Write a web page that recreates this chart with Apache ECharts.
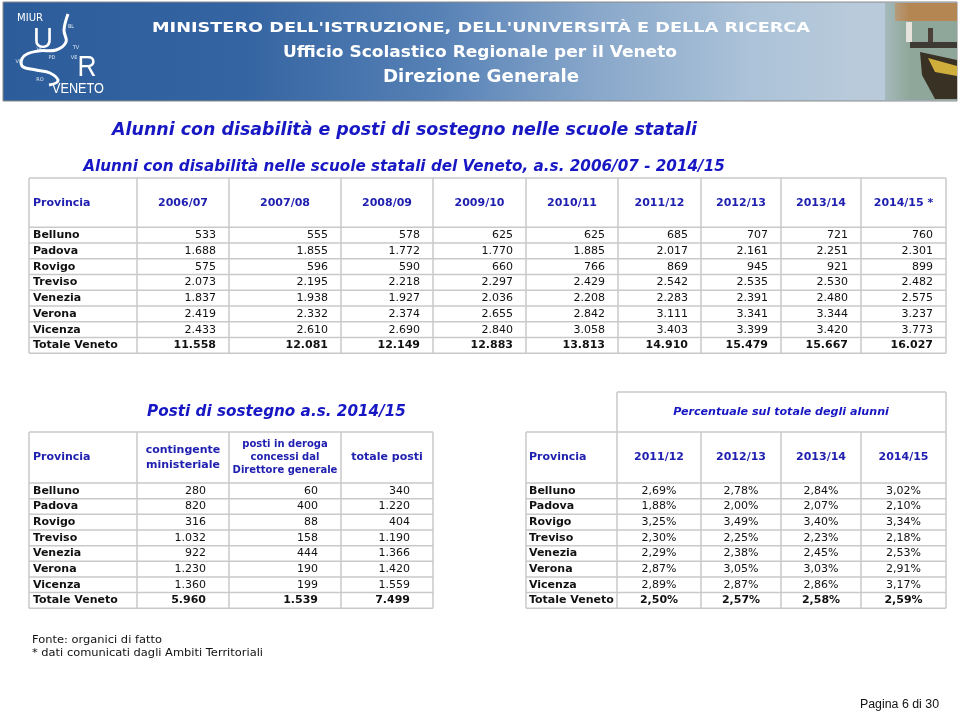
<!DOCTYPE html>
<html>
<head>
<meta charset="utf-8">
<script src="https://cdn.jsdelivr.net/npm/echarts@6/dist/echarts.min.js"></script>
<style>html,body{margin:0;padding:0;background:#fff}#c{width:960px;height:714px}</style>
</head>
<body>
<div id="c"></div>
<script>
// ---------------- DATA ----------------
const provinces = ['Belluno','Padova','Rovigo','Treviso','Venezia','Verona','Vicenza','Totale Veneto'];
const alunniYears = ['2006/07','2007/08','2008/09','2009/10','2010/11','2011/12','2012/13','2013/14','2014/15 *'];
const alunniBelluno = [533,555,578,625,625,685,707,721,760];
const alunniPadova  = [1688,1855,1772,1770,1885,2017,2161,2251,2301];
const alunniRovigo  = [575,596,590,660,766,869,945,921,899];
const alunniTreviso = [2073,2195,2218,2297,2429,2542,2535,2530,2482];
const alunniVenezia = [1837,1938,1927,2036,2208,2283,2391,2480,2575];
const alunniVerona  = [2419,2332,2374,2655,2842,3111,3341,3344,3237];
const alunniVicenza = [2433,2610,2690,2840,3058,3403,3399,3420,3773];
const alunniTotale  = [11558,12081,12149,12883,13813,14910,15479,15667,16027];

const postiHeaders = ['contingente\nministeriale','posti in deroga\nconcessi dal\nDirettore generale','totale posti'];
const postiContingente = [280,820,316,1032,922,1230,1360,5960];
const postiDeroga      = [60,400,88,158,444,190,199,1539];
const postiTotale      = [340,1220,404,1190,1366,1420,1559,7499];

const percYears = ['2011/12','2012/13','2013/14','2014/15'];
const perc201112 = [2.69,1.88,3.25,2.30,2.29,2.87,2.89,2.50];
const perc201213 = [2.78,2.00,3.49,2.25,2.38,3.05,2.87,2.57];
const perc201314 = [2.84,2.07,3.40,2.23,2.45,3.03,2.86,2.58];
const perc201415 = [3.02,2.10,3.34,2.18,2.53,2.91,3.17,2.59];

const texts = {
  ministero: "MINISTERO DELL'ISTRUZIONE, DELL'UNIVERSITÀ E DELLA RICERCA",
  ufficio: 'Ufficio Scolastico Regionale per il Veneto',
  direzione: 'Direzione Generale',
  title: 'Alunni con disabilità e posti di sostegno nelle scuole statali',
  subtitle: 'Alunni con disabilità nelle scuole statali del Veneto, a.s. 2006/07 - 2014/15',
  postiTitle: 'Posti di sostegno a.s. 2014/15',
  percTitle: 'Percentuale sul totale degli alunni',
  provHeader: 'Provincia',
  fonte: 'Fonte: organici di fatto',
  nota: '* dati comunicati dagli Ambiti Territoriali',
  pagina: 'Pagina 6 di 30'
};

// ---------------- HELPERS ----------------
const FAM = '"DejaVu Sans", Verdana, sans-serif';
const GRID = '#c9c9c9';
const TBLUE = '#1717c4';
const HBLUE = '#2020b0';
const INK = '#111111';
const ctx = document.createElement('canvas').getContext('2d');
function measure(str, font){ ctx.font = font; return ctx.measureText(str).width; }
function fmtInt(n){ return String(n).replace(/\B(?=(\d{3})+(?!\d))/g, '.'); }
function fmtPct(v){ return v.toFixed(2).replace('.', ',') + '%'; }
function fitSize(str, style, fam, base, target){
  return base * target / measure(str, style + ' ' + base + 'px ' + fam);
}

const g = [];
function addLine(x1,y1,x2,y2,color,w){
  g.push({type:'line', silent:true, z:5, shape:{x1,y1,x2,y2}, style:{stroke:color||GRID, lineWidth:w||1.5}});
}
function addText(str, x, y, o){
  o = o || {};
  const al = o.align || 'left';
  const el = {type:'text', x, y, silent:true, z:o.z||10,
    style:{text:str, font:o.font, fill:o.fill||INK, align:al, verticalAlign:'middle', textAlign:al, textVerticalAlign:'middle'}};
  if (o.width) { el.scaleX = o.width / measure(str, o.font); }
  g.push(el);
}

// ---------------- BANNER ----------------
g.push({type:'rect', silent:true, z:1, shape:{x:3,y:2,width:954,height:99},
  style:{fill:new echarts.graphic.LinearGradient(0,0,1,0,[
    {offset:0,color:'#2c5c9a'},{offset:0.25,color:'#3464a1'},{offset:0.45,color:'#5580b5'},
    {offset:0.62,color:'#88a7ca'},{offset:0.78,color:'#abc2d8'},{offset:0.9,color:'#b9cbdb'},{offset:1,color:'#b9cbdb'}]), stroke:'#8a8a8a', lineWidth:1}});
// painting on the right
g.push({type:'rect', silent:true, z:2, shape:{x:885,y:3,width:72,height:97}, style:{fill:'#8fa79a'}});
g.push({type:'rect', silent:true, z:2, shape:{x:895,y:3,width:62,height:18}, style:{fill:'#b48652'}});
g.push({type:'rect', silent:true, z:2, shape:{x:910,y:42,width:47,height:6}, style:{fill:'#3d3a33'}});
g.push({type:'polygon', silent:true, z:2, shape:{points:[[920,52],[957,60],[957,99],[935,99],[922,75]]}, style:{fill:'#3a3125'}});
g.push({type:'polygon', silent:true, z:2, shape:{points:[[928,58],[957,66],[957,76],[935,72]]}, style:{fill:'#cfae3c'}});
g.push({type:'rect', silent:true, z:2, shape:{x:906,y:22,width:6,height:20}, style:{fill:'#e8e4dc'}});
g.push({type:'rect', silent:true, z:2, shape:{x:928,y:28,width:5,height:14}, style:{fill:'#4a4038'}});
g.push({type:'rect', silent:true, z:3, shape:{x:860,y:3,width:50,height:97},
  style:{fill:new echarts.graphic.LinearGradient(0,0,1,0,[{offset:0,color:'rgba(185,203,219,1)'},{offset:1,color:'rgba(185,203,219,0)'}])}});
// logo
addText('MIUR', 17, 18, {font:'11px "DejaVu Sans Condensed", "DejaVu Sans", sans-serif', fill:'#fff', width:26, z:4});
addText('U', 43, 40, {font:'30px "Liberation Sans", sans-serif', fill:'#fff', align:'center', width:20, z:4});
addText('R', 87, 68, {font:'29px "Liberation Sans", sans-serif', fill:'#fff', align:'center', width:19, z:4});
addText('VENETO', 52, 89, {font:'15px "Liberation Sans Narrow", "Liberation Sans", sans-serif', fill:'#fff', width:52, z:4});
g.push({type:'polyline', silent:true, z:4,
  shape:{points:[[68,14],[64,30],[66,42],[56,50],[38,51],[24,56],[22,66],[36,70],[50,73],[58,81],[49,85]], smooth:0.4},
  style:{fill:null, stroke:'#ffffff', lineWidth:3}});
[['BL',71,27],['TV',76,48],['VE',74,58],['PD',52,58],['VR',19,62],['VI',39,50],['RO',40,80]].forEach(d=>{
  addText(d[0], d[1], d[2], {font:'5px "DejaVu Sans", sans-serif', fill:'#e0e8f4', align:'center', z:4});
});
addText(texts.ministero, 152, 28, {font:'bold 14px ' + FAM, fill:'#ffffff', width:658, z:4});
addText(texts.ufficio, 480, 53, {font:'bold 15px ' + FAM, fill:'#ffffff', align:'center', width:394, z:4});
addText(texts.direzione, 481, 78, {font:'bold 17px ' + FAM, fill:'#ffffff', align:'center', width:196, z:4});

// ---------------- TITLES ----------------
function fittedTitle(str, cx, cy, w, base){
  const s = fitSize(str, 'italic bold', FAM, base, w);
  addText(str, cx, cy, {font:'italic bold ' + s.toFixed(2) + 'px ' + FAM, fill:TBLUE, align:'center'});
}
fittedTitle(texts.title, 404.5, 130, 585, 17);
fittedTitle(texts.subtitle, 404, 167, 642, 15);
fittedTitle(texts.postiTitle, 276.5, 412, 259, 15);
fittedTitle(texts.percTitle, 781, 412, 216, 11);

const BODY = '11px ' + FAM;
const BOLD = 'bold 11px ' + FAM;
const HDR = 'bold 11px ' + FAM;

// ---------------- TABLE 1 ----------------
(function(){
  const edges = [29,137,229,341,433,526,618,701,781,861,946];
  const top = 178, hdr = 227.3, rowH = 15.75;
  const rows = [alunniBelluno,alunniPadova,alunniRovigo,alunniTreviso,alunniVenezia,alunniVerona,alunniVicenza,alunniTotale];
  const bottom = hdr + rowH * rows.length;
  addLine(edges[0], top, edges[edges.length-1], top);
  addLine(edges[0], hdr, edges[edges.length-1], hdr);
  for (let i=1;i<=rows.length;i++) addLine(edges[0], hdr+rowH*i, edges[edges.length-1], hdr+rowH*i);
  edges.forEach(x => addLine(x, top, x, bottom));
  const hy = (top + hdr) / 2;
  addText(texts.provHeader, 33, hy, {font:HDR, fill:HBLUE});
  alunniYears.forEach((y,j) => addText(y, (edges[j+1]+edges[j+2])/2, hy, {font:HDR, fill:HBLUE, align:'center'}));
  rows.forEach((vals,i) => {
    const cy = hdr + rowH*(i+0.5);
    const f = i === rows.length-1 ? BOLD : BODY;
    addText(provinces[i], 33, cy, {font:BOLD});
    vals.forEach((v,j) => addText(fmtInt(v), edges[j+2]-13, cy, {font:f, align:'right'}));
  });
})();

// ---------------- TABLE 2 ----------------
(function(){
  const edges = [29,137,229,341,433];
  const top = 432, hdr = 483, rowH = 15.66;
  const cols = [postiContingente, postiDeroga, postiTotale];
  const n = provinces.length;
  const bottom = hdr + rowH * n;
  addLine(edges[0], top, edges[4], top);
  addLine(edges[0], hdr, edges[4], hdr);
  for (let i=1;i<=n;i++) addLine(edges[0], hdr+rowH*i, edges[4], hdr+rowH*i);
  edges.forEach(x => addLine(x, top, x, bottom));
  const hy = (top + hdr) / 2;
  addText(texts.provHeader, 33, hy, {font:HDR, fill:HBLUE});
  postiHeaders.forEach((h,j) => {
    const lines = h.split('\n');
    const lh = lines.length > 2 ? 13.3 : 14.3;
    const fnt = lines.length > 2 ? 'bold 10px ' + FAM : HDR;
    lines.forEach((l,k) => addText(l, (edges[j+1]+edges[j+2])/2, hy + (k - (lines.length-1)/2)*lh, {font:fnt, fill:HBLUE, align:'center'}));
  });
  for (let i=0;i<n;i++){
    const cy = hdr + rowH*(i+0.5);
    const f = i === n-1 ? BOLD : BODY;
    addText(provinces[i], 33, cy, {font:BOLD});
    cols.forEach((c,j) => addText(fmtInt(c[i]), edges[j+2]-23, cy, {font:f, align:'right'}));
  }
})();

// ---------------- TABLE 3 ----------------
(function(){
  const edges = [526,617,701,781,861,946];
  const supTop = 392, top = 432, hdr = 483, rowH = 15.66;
  const cols = [perc201112, perc201213, perc201314, perc201415];
  const n = provinces.length;
  const bottom = hdr + rowH * n;
  addLine(edges[1], supTop, edges[5], supTop);
  addLine(edges[1], supTop, edges[1], top);
  addLine(edges[5], supTop, edges[5], top);
  addLine(edges[0], top, edges[5], top);
  addLine(edges[0], hdr, edges[5], hdr);
  for (let i=1;i<=n;i++) addLine(edges[0], hdr+rowH*i, edges[5], hdr+rowH*i);
  edges.forEach(x => addLine(x, top, x, bottom));
  const hy = (top + hdr) / 2;
  addText(texts.provHeader, 529, hy, {font:HDR, fill:HBLUE});
  percYears.forEach((y,j) => addText(y, (edges[j+1]+edges[j+2])/2, hy, {font:HDR, fill:HBLUE, align:'center'}));
  for (let i=0;i<n;i++){
    const cy = hdr + rowH*(i+0.5);
    const f = i === n-1 ? BOLD : BODY;
    addText(provinces[i], 529, cy, {font:BOLD});
    cols.forEach((c,j) => addText(fmtPct(c[i]), (edges[j+1]+edges[j+2])/2, cy, {font:f, align:'center'}));
  }
})();

// ---------------- FOOTER ----------------
addText(texts.fonte, 32, 640, {font:'11px ' + FAM, width:130});
addText(texts.nota, 32, 653, {font:'11px ' + FAM, width:231});
addText(texts.pagina, 939, 705, {font:'12px "Liberation Sans", Arial, sans-serif', align:'right', width:79});

const chart = echarts.init(document.getElementById('c'), null, {renderer:'canvas', width:960, height:714});
chart.setOption({
  backgroundColor:'#ffffff',
  animation:false,
  graphic:{elements:g}
});
</script>
</body>
</html>
